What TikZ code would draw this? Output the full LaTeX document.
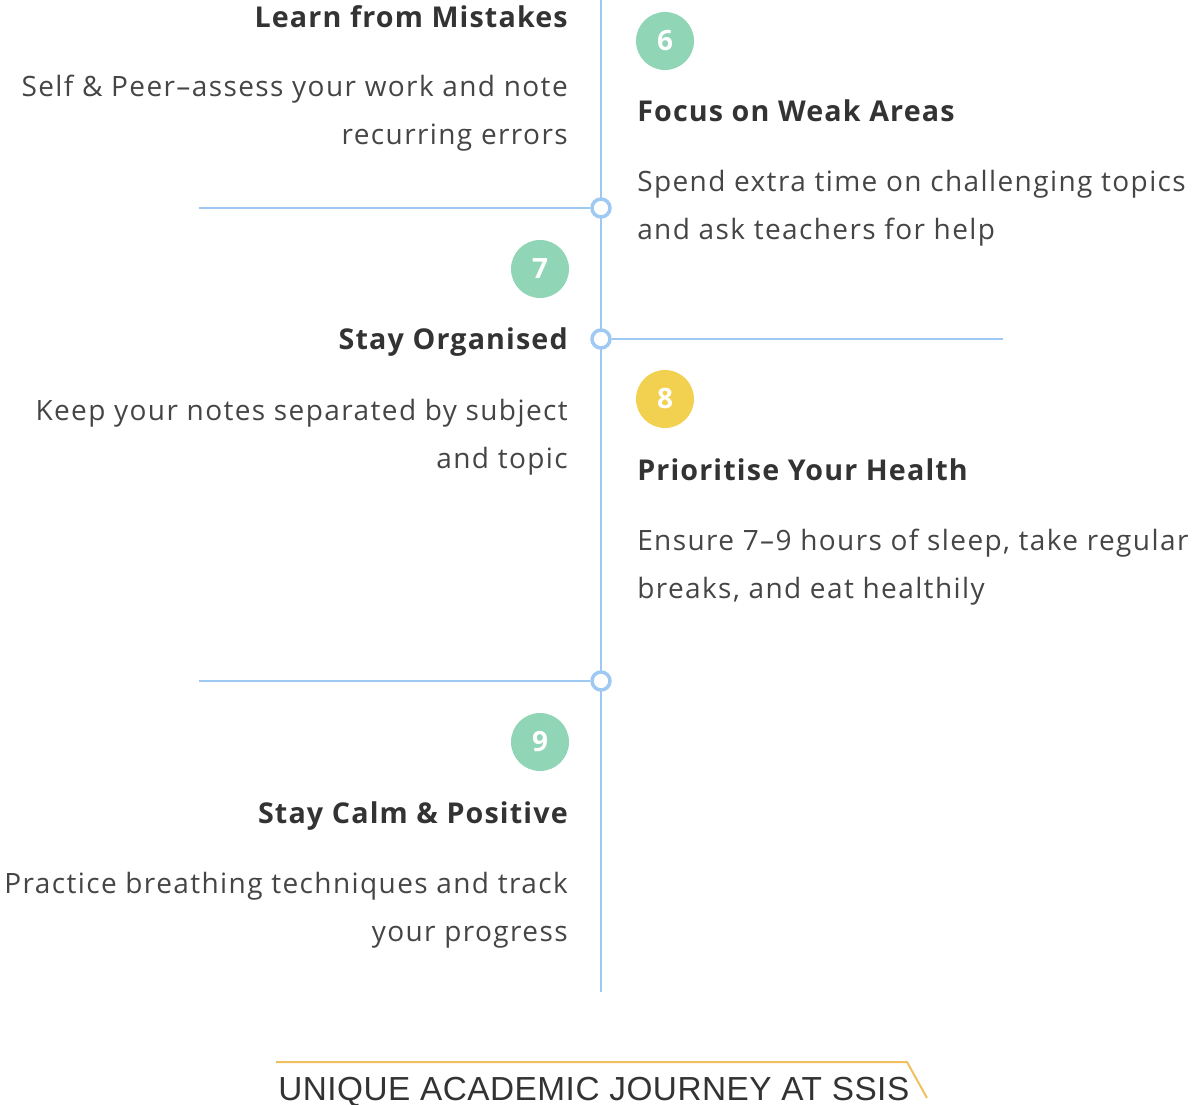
\documentclass[tikz,border=0pt]{standalone}
\usepackage{fontspec}
\setmainfont{Open Sans}
\setsansfont{Liberation Sans}
\definecolor{axisblue}{HTML}{9DC9F2}
\definecolor{badgegreen}{HTML}{8FD5B6}
\definecolor{badgeyellow}{HTML}{F2D150}
\definecolor{headgray}{HTML}{333333}
\definecolor{bodygray}{HTML}{454545}
\definecolor{ribbon}{HTML}{F0BF5E}
\tikzset{
 head/.style={text=headgray,inner sep=0pt,font=\fontsize{21.5}{25}\selectfont\bfseries\addfontfeatures{LetterSpace=4}},
 body/.style={text=bodygray,inner sep=0pt,align=right,font=\fontsize{21}{36}\selectfont\addfontfeatures{LetterSpace=5}},
 bodyl/.style={body,align=left},
 badge/.style={circle,inner sep=0pt,minimum size=43.5pt,text=white,font=\fontsize{21}{22}\selectfont\bfseries},
 dot/.style={circle,draw=axisblue,fill=white,line width=2.6pt,minimum size=13.5pt,inner sep=0pt},
}
\begin{document}
\begin{tikzpicture}[x=0.75pt,y=-0.75pt]
 \useasboundingbox (0,0) rectangle (1200,1105);
 % axe
 \coordinate (top) at (601,0);
 \coordinate (bot) at (601,992);
 \draw[axisblue,line width=1.5pt] (top)--(bot);
 \node[dot] (c1) at (601,208) {};
 \node[dot] (c2) at (601,339) {};
 \node[dot] (c3) at (601,681) {};
 \coordinate (e1) at (199,208);
 \coordinate (e2) at (1003,339);
 \coordinate (e3) at (199,681);
 \draw[axisblue,line width=1.3pt] (c1)--(e1);
 \draw[axisblue,line width=1.3pt] (c2)--(e2);
 \draw[axisblue,line width=1.3pt] (c3)--(e3);
 % badges
 \node[badge,fill=badgegreen] (n6) at (665,41) {6};
 \node[badge,fill=badgegreen] (n7) at (540,269) {7};
 \node[badge,fill=badgeyellow] (n8) at (665,399) {8};
 \node[badge,fill=badgegreen] (n9) at (540,742) {9};
 \path
 (568,28) node[head,anchor=base east] (h5) {Learn from Mistakes} % <<< 5
 ++(0,117) node[body,anchor=base east] (b5) {Self \& Peer–assess your work and note\\recurring errors}
 (637,122) node[head,anchor=base west] (h6) {Focus on Weak Areas} % <<< 6
 ++(0,118) node[bodyl,anchor=base west] (b6) {Spend extra time on challenging topics\\and ask teachers for help}
 (568,350) node[head,anchor=base east] (h7) {Stay Organised} % <<< 7
 ++(0,119) node[body,anchor=base east] (b7) {Keep your notes separated by subject\\and topic}
 (637,481) node[head,anchor=base west] (h8) {Prioritise Your Health} % <<< 8
 ++(0,117) node[bodyl,anchor=base west] (b8) {Ensure 7–9 hours of sleep, take regular\\breaks, and eat healthily}
 (568,823) node[head,anchor=base east] (h9) {Stay Calm \& Positive} % <<< 9
 ++(0,118) node[body,anchor=base east] (b9) {Practice breathing techniques and track\\your progress};
 % titre
 \node[anchor=base west,inner sep=0pt,text=headgray,font=\sffamily\fontsize{25}{28}\selectfont\addfontfeatures{LetterSpace=1.5}] (ttl) at (278,1100) {UNIQUE ACADEMIC JOURNEY AT SSIS};
 \coordinate (r1) at (276,1062);
 \coordinate (r2) at (907,1062);
 \coordinate (r3) at (927,1098);
 \draw[ribbon,line width=1.5pt] (r1)--(r2)--(r3);
\end{tikzpicture}
\end{document}
